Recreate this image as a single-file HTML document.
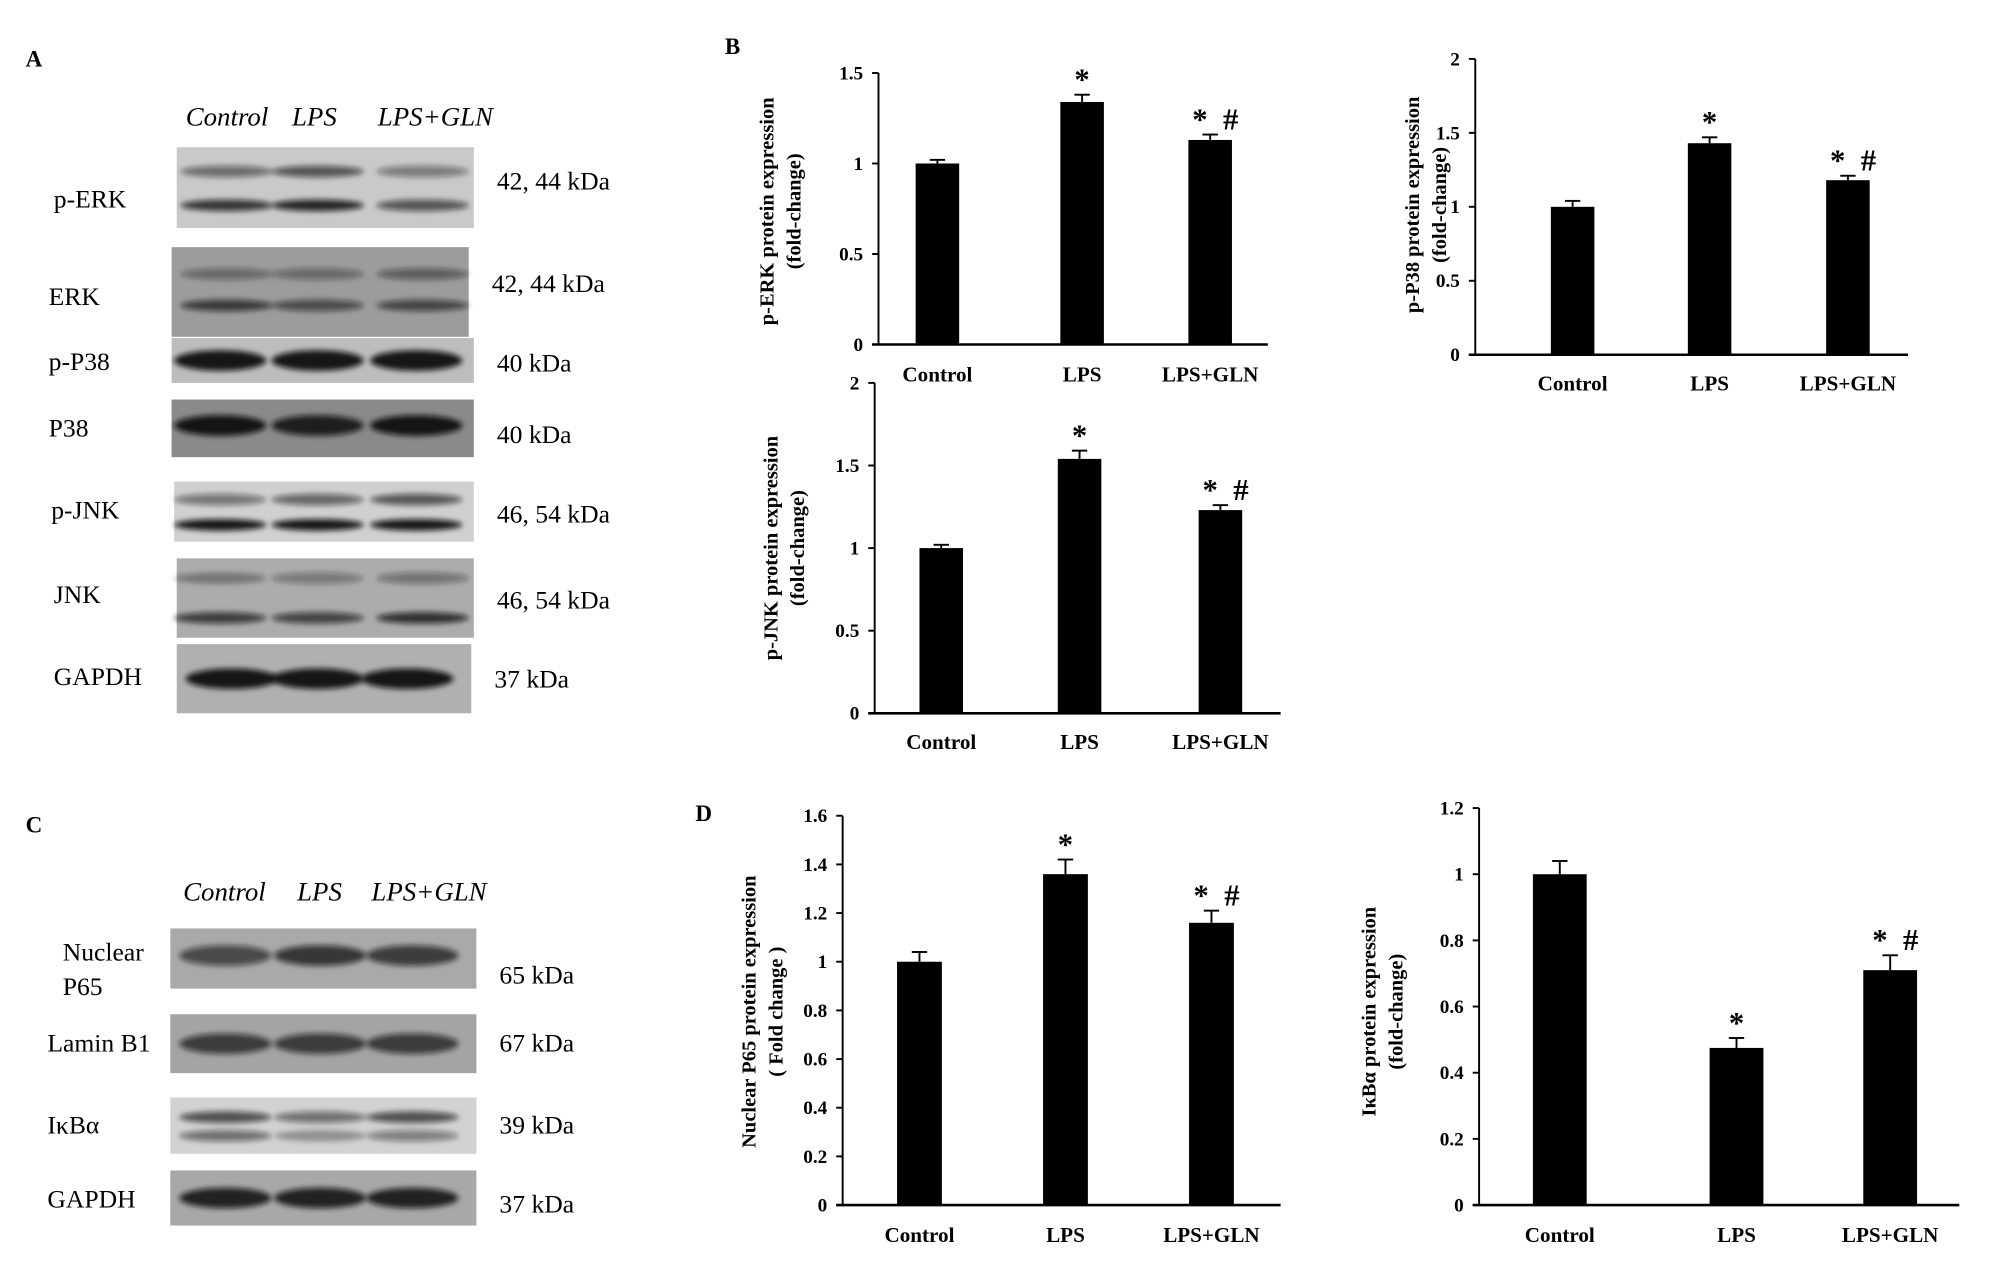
<!DOCTYPE html>
<html><head><meta charset="utf-8"><style>
html,body{margin:0;padding:0;background:#fff}
svg{display:block}
text{font-family:"Liberation Serif",serif}
.b{font-weight:bold}
</style></head><body>
<svg id="fig" width="2008" height="1271" viewBox="0 0 1568 992.5" xmlns="http://www.w3.org/2000/svg">
<defs><filter id="blur" x="-20%" y="-50%" width="140%" height="200%"><feGaussianBlur stdDeviation="2"/></filter></defs>
<rect width="1568" height="992.5" fill="#fff"/>
<g id="blots"></g>
<g id="charts"></g>
<text x="20" y="52" class="b" font-size="18">A</text>
<text x="566" y="42" class="b" font-size="18">B</text>
<text x="20" y="650" class="b" font-size="18">C</text>
<text x="543" y="641" class="b" font-size="18">D</text>
</svg>
<script>
const NS="http://www.w3.org/2000/svg";
function mk(parent,tag,attrs,txt){const e=document.createElementNS(NS,tag);for(const k in attrs)e.setAttribute(k,attrs[k]);if(txt!==undefined)e.textContent=txt;parent.appendChild(e);return e;}

// ---------- chart data ----------
const categories=["Control","LPS","LPS+GLN"];
const erkValues=[1.0,1.34,1.13];
const erkErrors=[0.02,0.04,0.03];
const erkMarks=["","*","* #"];
const erkTicks=[0,0.5,1,1.5];
const p38Values=[1.0,1.43,1.18];
const p38Errors=[0.04,0.04,0.03];
const p38Marks=["","*","* #"];
const p38Ticks=[0,0.5,1,1.5,2];
const jnkValues=[1.0,1.54,1.23];
const jnkErrors=[0.02,0.05,0.03];
const jnkMarks=["","*","* #"];
const jnkTicks=[0,0.5,1,1.5,2];
const p65Values=[1.0,1.36,1.16];
const p65Errors=[0.04,0.06,0.05];
const p65Marks=["","*","* #"];
const p65Ticks=[0,0.2,0.4,0.6,0.8,1,1.2,1.4,1.6];
const ikbValues=[1.0,0.475,0.71];
const ikbErrors=[0.04,0.03,0.045];
const ikbMarks=["","*","* #"];
const ikbTicks=[0,0.2,0.4,0.6,0.8,1,1.2];

const chartDefs=[
 {name:"p-erk-chart",vals:erkValues,errs:erkErrors,marks:erkMarks,ticks:erkTicks,ax:686,y0:269,yTop:57,max:1.5,xEnd:990,centers:[732,845,945],bw:34,labY:298,t1:"p-ERK protein expression",t2:"(fold-change)",tx:604,ty:165},
 {name:"p-p38-chart",vals:p38Values,errs:p38Errors,marks:p38Marks,ticks:p38Ticks,ax:1152,y0:277,yTop:46,max:2,xEnd:1490,centers:[1228,1335,1443],bw:34,labY:305,t1:"p-P38 protein expression",t2:"(fold-change)",tx:1108,ty:160},
 {name:"p-jnk-chart",vals:jnkValues,errs:jnkErrors,marks:jnkMarks,ticks:jnkTicks,ax:683,y0:557,yTop:299,max:2,xEnd:1000,centers:[735,843,953],bw:34,labY:585,t1:"p-JNK protein expression",t2:"(fold-change)",tx:607,ty:428},
 {name:"nuclear-p65-chart",vals:p65Values,errs:p65Errors,marks:p65Marks,ticks:p65Ticks,ax:658,y0:941,yTop:637,max:1.6,xEnd:1000,centers:[718,832,946],bw:35,labY:970,t1:"Nuclear P65 protein expression",t2:"( Fold change )",tx:590,ty:790},
 {name:"ikba-chart",vals:ikbValues,errs:ikbErrors,marks:ikbMarks,ticks:ikbTicks,ax:1155,y0:941,yTop:631,max:1.2,xEnd:1530,centers:[1218,1356,1476],bw:42,labY:970,t1:"I\u03baB\u03b1 protein expression",t2:"(fold-change)",tx:1074,ty:790}
];

const charts=document.getElementById('charts');
chartDefs.forEach(c=>{
 const g=mk(charts,'g',{});
 
 
 const ys=v=>c.y0-(v/c.max)*(c.y0-c.yTop);
 const ya=mk(g,'line',{x1:c.ax,y1:c.yTop,x2:c.ax,y2:c.y0,stroke:'#000','stroke-width':1.5});
 
 
 const xa=mk(g,'line',{x1:c.ax-5,y1:c.y0,x2:c.xEnd,y2:c.y0,stroke:'#000','stroke-width':2});
 
 
 c.ticks.forEach(t=>{
  const y=ys(t);
  mk(g,'line',{x1:c.ax-5,y1:y,x2:c.ax,y2:y,stroke:'#000','stroke-width':1.5});
  const tl=mk(g,'text',{x:c.ax-12,y:y+5,'text-anchor':'end','font-size':15,class:'b'},String(t));
  
  
 });
 c.vals.forEach((v,i)=>{
  const cx=c.centers[i],top=ys(v),et=ys(v+c.errs[i]);
  const bar=mk(g,'rect',{x:cx-c.bw/2,y:top,width:c.bw,height:c.y0-top,fill:'#000'});
  
  
  mk(g,'line',{x1:cx,y1:top,x2:cx,y2:et,stroke:'#000','stroke-width':1.5});
  mk(g,'line',{x1:cx-6,y1:et,x2:cx+6,y2:et,stroke:'#000','stroke-width':1.5});
  if(c.marks[i]){
   const m=mk(g,'text',{x:cx+(c.marks[i].length>1?4:0),y:et-4,'text-anchor':'middle','font-size':24,class:'b'},c.marks[i].replace(' ','\u00a0\u00a0'));
   
   
  }
  const cl=mk(g,'text',{x:cx,y:c.labY,'text-anchor':'middle','font-size':16.5,class:'b'},categories[i]);
  
  
 });
 const t=mk(g,'text',{transform:`translate(${c.tx},${c.ty}) rotate(-90)`,'text-anchor':'middle','font-size':16,class:'b'});
 
 
 mk(t,'tspan',{x:0,y:0},c.t1);
 mk(t,'tspan',{x:0,y:21},c.t2);
});

// ---------- blots ----------
const blotRows=[
 {name:"p-erk",label:["p-ERK"],kda:"42, 44 kDa",x:138,y:115,w:232,h:63,bg:"#c9c9c9",bands:[[0.3,0.45,0.6,0.35],[0.72,0.8,0.9,0.6]],lanes:[177,248,330],ly:162,ky:148},
 {name:"erk",label:["ERK"],kda:"42, 44 kDa",x:134,y:193,w:232,h:70,bg:"#9c9c9c",bands:[[0.3,0.3,0.3,0.4],[0.65,0.7,0.55,0.6]],lanes:[177,248,330],ly:238,ky:228},
 {name:"p-p38",label:["p-P38"],kda:"40 kDa",x:134,y:264,w:236,h:35,bg:"#bdbdbd",bands:[[0.5,1,1,1]],lanes:[172,248,325],ly:289,ky:290},
 {name:"p38",label:["P38"],kda:"40 kDa",x:134,y:312,w:236,h:45,bg:"#8a8a8a",bands:[[0.45,1,0.9,1]],lanes:[172,248,325],ly:341,ky:346},
 {name:"p-jnk",label:["p-JNK"],kda:"46, 54 kDa",x:136,y:376,w:234,h:47,bg:"#d0d0d0",bands:[[0.3,0.4,0.5,0.6],[0.72,1,1,1]],lanes:[172,248,325],ly:405,ky:408},
 {name:"jnk",label:["JNK"],kda:"46, 54 kDa",x:138,y:436,w:232,h:62,bg:"#acacac",bands:[[0.25,0.2,0.25,0.3],[0.75,0.7,0.65,0.8]],lanes:[172,248,330],ly:471,ky:475},
 {name:"gapdh-a",label:["GAPDH"],kda:"37 kDa",x:138,y:503,w:230,h:54,bg:"#b0b0b0",bands:[[0.5,1,1,1]],lanes:[181,248,318],ly:535,ky:537},
 {name:"nuclear-p65",label:["Nuclear","P65"],kda:"65 kDa",x:133,y:725,w:239,h:47,bg:"#a9a9a9",bands:[[0.45,0.6,0.75,0.7]],lanes:[176,250,322],ly:750,ky:768},
 {name:"lamin-b1",label:["Lamin B1"],kda:"67 kDa",x:133,y:792,w:239,h:46,bg:"#a4a4a4",bands:[[0.5,0.7,0.7,0.7]],lanes:[176,250,322],ly:821,ky:821},
 {name:"ikba",label:["I\u03baB\u03b1"],kda:"39 kDa",x:133,y:857,w:239,h:44,bg:"#d2d2d2",bands:[[0.35,0.65,0.45,0.65],[0.68,0.45,0.2,0.35]],lanes:[176,250,322],ly:885,ky:885},
 {name:"gapdh-c",label:["GAPDH"],kda:"37 kDa",x:133,y:914,w:239,h:43,bg:"#a8a8a8",bands:[[0.5,0.9,0.9,0.9]],lanes:[176,250,322],ly:943,ky:947}
];
const blots=document.getElementById('blots');
blotRows.forEach(r=>{
 const g=mk(blots,'g',{});
 
 
 mk(g,'rect',{x:r.x,y:r.y,width:r.w,height:r.h,fill:r.bg});
 r.bands.forEach(b=>{
  const pos=b[0];
  for(let i=0;i<3;i++){
   const k=b[i+1];
   const ry=r.bands.length>1?4.5:8;
   mk(g,'ellipse',{cx:r.lanes[i],cy:r.y+r.h*pos,rx:36,ry:ry,fill:'#111','fill-opacity':(0.15+0.8*k).toFixed(2),filter:'url(#blur)'});
  }
 });
 const l=mk(g,'text',{x:r.x-60,y:r.ly,'font-size':20});
 
 
 r.label.forEach((s,i)=>mk(l,'tspan',{x:r.label.length>1?r.x-84:(r.x-96),dy:i?27:0},s));
 const k=mk(g,'text',{x:r.x+r.w+18,y:r.ky,'font-size':20},r.kda);
 
 
});
const heads=[[145,92,"Control"],[228,92,"LPS"],[295,92,"LPS+GLN"],[143,697,"Control"],[232,697,"LPS"],[290,697,"LPS+GLN"]];
heads.forEach(h=>{
 const t=mk(blots,'text',{x:h[0],y:h[1]+6,'font-size':21,'font-style':'italic'},h[2]);
 
 
});
</script>
</body></html>
